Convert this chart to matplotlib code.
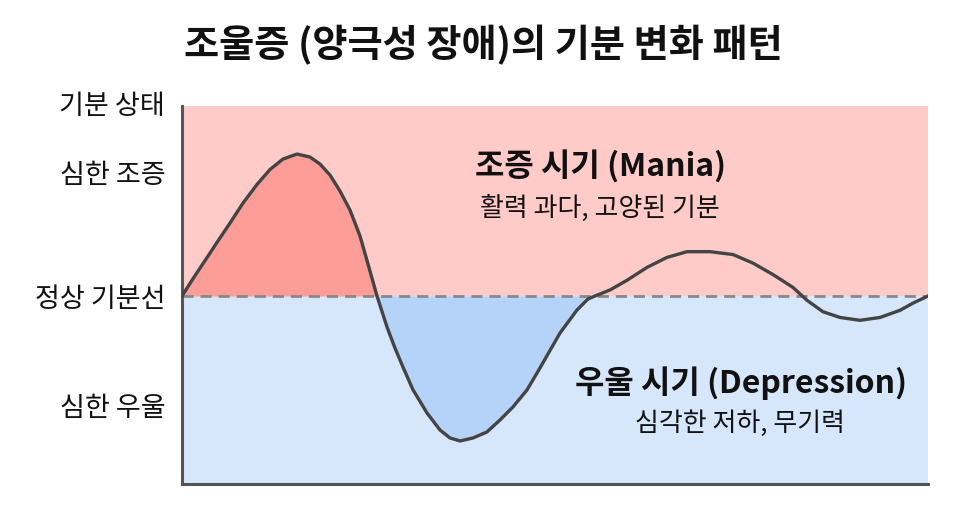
import matplotlib
matplotlib.use("Agg")
import matplotlib.pyplot as plt
import numpy as np

plt.rcParams['font.family'] = ['Noto Sans CJK KR', 'DejaVu Sans']

# --- data (time in % of period, mood: 0 = normal line, +1 severe mania, -1 severe depression)
time = [0, 1.34, 2.41, 3.75, 4.69, 6.43, 8.18, 10.05, 11.80, 13.54, 15.42, 17.16, 18.50,
        19.84, 21.18, 22.52, 23.86, 24.93,
        26.14, 27.48, 28.55, 29.62, 30.97, 32.84, 34.58, 35.92, 37.27, 39.01, 40.88, 42.63,
        44.37, 46.25, 47.99, 50.67, 52.95, 54.42,
        55.36, 56.03, 57.37, 59.65, 62.33, 65.01, 67.69, 70.78, 73.86, 76.54, 79.22,
        81.90, 83.78, 85.92, 88.20, 90.88, 93.57, 96.25, 97.99, 100]
mood = [0, 0.11, 0.195, 0.30, 0.375, 0.51, 0.65, 0.78, 0.885, 0.958, 0.993, 0.972, 0.923,
        0.846, 0.734, 0.601, 0.420, 0.224,
        0.0, -0.217, -0.364, -0.497, -0.657, -0.818, -0.937, -0.993, -1.014, -0.993, -0.951, -0.867,
        -0.776, -0.657, -0.503, -0.259, -0.098, -0.021,
        0.0, 0.014, 0.042, 0.11, 0.20, 0.27, 0.31, 0.31, 0.29, 0.23, 0.15,
        0.06, -0.03, -0.11, -0.15, -0.17, -0.15, -0.10, -0.05, 0]
mania_end = 26.14
depression_end = 55.36

tick_pos = [0.867, 0.0, -0.768]
tick_labels = ['심한 조증', '정상 기분선', '심한 우울']
axis_label = '기분 상태'
title = '조울증 (양극성 장애)의 기분 변화 패턴'
mania_title = '조증 시기 (Mania)'
mania_sub = '활력 과다, 고양된 기분'
dep_title = '우울 시기 (Depression)'
dep_sub = '심각한 저하, 무기력'

t = np.array(time)
m = np.array(mood)

fig = plt.figure(figsize=(9.66, 5.27), dpi=100)
ax = fig.add_axes([182/966, 1-484/527, (928-182)/966, (484-106)/527])

ymin, ymax = -1.315, 1.329
ax.set_xlim(0, 100)
ax.set_ylim(ymin, ymax)

ax.axhspan(0, ymax, color='#FECBC8', lw=0, zorder=0)
ax.axhspan(ymin, 0, color='#D6E6FB', lw=0, zorder=0)

ax.fill_between(t, m, 0, where=(t <= mania_end), color='#FD9D97', lw=0, zorder=1)
ax.fill_between(t, m, 0, where=(t >= mania_end) & (t <= depression_end),
                color='#B5D2F8', lw=0, zorder=1)

ax.axhline(0, color='#888888', lw=2, ls=(0, (4, 2.5)), zorder=2)
ax.plot(t, m, color='#444444', lw=2.4, solid_joinstyle='round', solid_capstyle='round', zorder=3)

for s in ['top', 'right']:
    ax.spines[s].set_visible(False)
for s in ['left', 'bottom']:
    ax.spines[s].set_color('#555555')
    ax.spines[s].set_linewidth(2.2)

ax.set_xticks([])
ax.set_yticks(tick_pos)
ax.set_yticklabels(tick_labels, fontsize=19.5, color='#111111')
ax.tick_params(axis='y', length=0, pad=12)

ax.text(-2.28, ymax, axis_label, ha='right', va='center',
        fontsize=19.5, color='#111111', clip_on=False)

ax.text(56.1, 0.90, mania_title, ha='center', va='center', fontsize=23,
        fontweight='bold', color='#111111')
ax.text(56.0, 0.615, mania_sub, ha='center', va='center', fontsize=18.7, color='#111111')
ax.text(75.0, -0.61, dep_title, ha='center', va='center', fontsize=23,
        fontweight='bold', color='#111111')
ax.text(74.8, -0.89, dep_sub, ha='center', va='center', fontsize=18.7, color='#111111')

fig.text(0.5, 1-45/527, title, ha='center', va='center', fontsize=27.5,
         fontweight='bold', color='#111111')

fig.savefig('out.png', dpi=100, facecolor='white')
